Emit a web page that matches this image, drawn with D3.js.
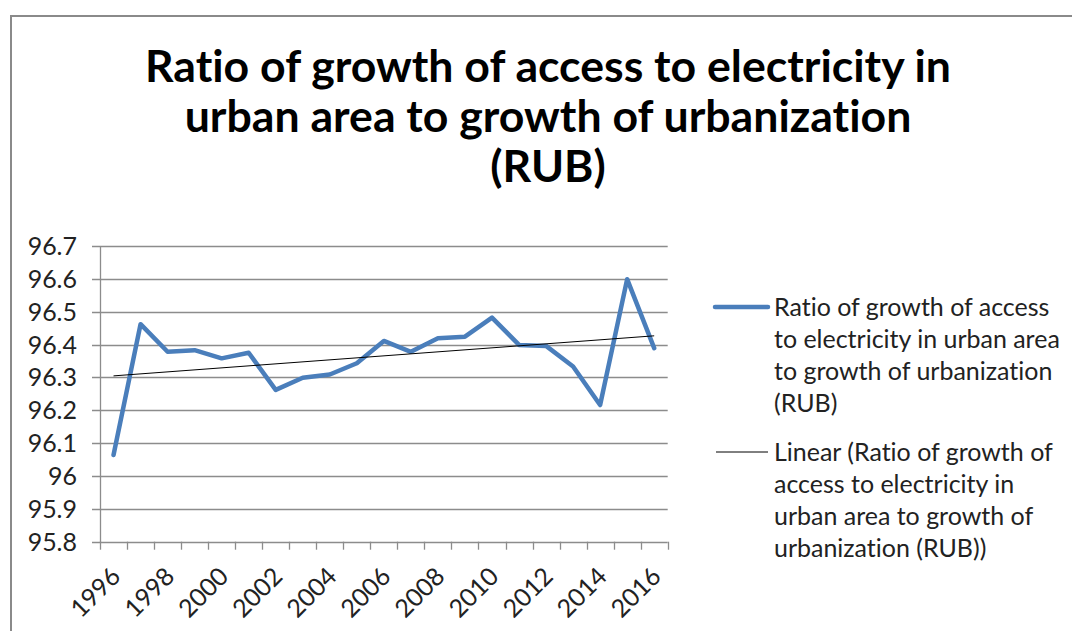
<!DOCTYPE html>
<html><head><meta charset="utf-8">
<script src="https://cdn.jsdelivr.net/npm/d3@7/dist/d3.min.js"></script>
<style>
html,body{margin:0;padding:0;background:#fff;}
svg{display:block;}
text{font-variant-ligatures:none;}
</style></head>
<body>
<svg id="chart" width="1072" height="631"></svg>
<script>
const years = ["1996","1997","1998","1999","2000","2001","2002","2003","2004","2005","2006","2007","2008","2009","2010","2011","2012","2013","2014","2015","2016"];
const rubValues = [96.064,96.462,96.378,96.383,96.358,96.375,96.262,96.299,96.309,96.343,96.411,96.378,96.419,96.424,96.482,96.399,96.396,96.333,96.216,96.599,96.389];
const yTicks = [95.8,95.9,96,96.1,96.2,96.3,96.4,96.5,96.6,96.7];
const xLabelYears = ["1996","1998","2000","2002","2004","2006","2008","2010","2012","2014","2016"];
const titleLines = ["Ratio of growth of access to electricity in","urban area to growth of urbanization","(RUB)"];
const legendSeries = ["Ratio of growth of access","to electricity in urban area","to growth of urbanization","(RUB)"];
const legendTrend = ["Linear (Ratio of growth of","access to electricity in","urban area to growth of","urbanization (RUB))"];

(function(){
const svg = d3.select("#chart");
const FONT = "Lato, 'Open Sans', 'Liberation Sans', sans-serif";

function fitSize(text, weight, targetW){
  const t = svg.append("text").attr("font-family",FONT).attr("font-weight",weight).attr("font-size",100).text(text);
  const w = t.node().getComputedTextLength();
  t.remove();
  return 100*targetW/w;
}

// frame
svg.append("path").attr("d","M11,631 L11,16 L1072,16").attr("fill","none").attr("stroke","#8a8a8a").attr("stroke-width",2);

// title
const titleSize = fitSize(titleLines[0],700,806);
svg.append("g").selectAll("text").data(titleLines).join("text")
  .attr("x",548).attr("y",(d,i)=>82+i*50)
  .attr("text-anchor","middle").attr("font-family",FONT).attr("font-weight",700)
  .attr("font-size",titleSize).attr("fill","#000").text(d=>d);

const labelSize = fitSize("to electricity in urban area",400,286);

const pLeft=100, pRight=667.7, pTop=246, pBottom=541.7;
const x = d3.scaleBand().domain(years).range([pLeft,pRight]).padding(0);
const y = d3.scaleLinear().domain([95.8,96.7]).range([pBottom,pTop]);
const cx = d=>x(d)+x.bandwidth()/2;

// gridlines
svg.append("g").selectAll("line").data(yTicks).join("line")
  .attr("x1",pLeft-8).attr("x2",pRight).attr("y1",d=>Math.round(y(d))+0.5).attr("y2",d=>Math.round(y(d))+0.5)
  .attr("stroke","#8c8c8c").attr("stroke-width",1.3);
svg.append("line").attr("x1",pLeft+0.5).attr("x2",pLeft+0.5).attr("y1",pTop).attr("y2",pBottom+0.5)
  .attr("stroke","#8c8c8c").attr("stroke-width",1.3);
const bounds = years.map(d=>x(d)).concat([pRight]);
svg.append("g").selectAll("line").data(bounds).join("line")
  .attr("x1",d=>Math.round(d)+0.5).attr("x2",d=>Math.round(d)+0.5).attr("y1",pBottom).attr("y2",pBottom+8)
  .attr("stroke","#8c8c8c").attr("stroke-width",1.3);

// y labels
svg.append("g").selectAll("text").data(yTicks).join("text")
  .attr("x",77).attr("y",d=>y(d)).attr("dy","0.36em").attr("text-anchor","end")
  .attr("font-family",FONT).attr("font-size",labelSize).attr("fill","#222")
  .text(d=>d3.format("")(d));

// x labels
svg.append("g").selectAll("text").data(xLabelYears).join("text")
  .attr("transform",d=>`translate(${cx(d)+2},${pBottom+30}) rotate(-45)`)
  .attr("dy","0.36em").attr("text-anchor","end")
  .attr("font-family",FONT).attr("font-size",labelSize).attr("fill","#222")
  .text(d=>d);

// series line
const pts = years.map((d,i)=>[cx(d),y(rubValues[i])]);
svg.append("path").attr("d",d3.line()(pts)).attr("fill","none")
  .attr("stroke","#4a7ebb").attr("stroke-width",4.5).attr("stroke-linejoin","round").attr("stroke-linecap","round");

// linear trend (least squares)
const n=rubValues.length, xs=d3.range(n);
const mx=d3.mean(xs), my=d3.mean(rubValues);
const slope=d3.sum(xs,i=>(i-mx)*(rubValues[i]-my))/d3.sum(xs,i=>(i-mx)*(i-mx));
const icpt=my-slope*mx;
svg.append("line")
  .attr("x1",cx(years[0])).attr("y1",y(icpt))
  .attr("x2",cx(years[n-1])).attr("y2",y(icpt+slope*(n-1)))
  .attr("stroke","#000").attr("stroke-width",1);

// legend
const lg = svg.append("g");
lg.append("line").attr("x1",715).attr("x2",768).attr("y1",307).attr("y2",307)
  .attr("stroke","#4a7ebb").attr("stroke-width",4.5).attr("stroke-linecap","round");
lg.append("line").attr("x1",716).attr("x2",768).attr("y1",452).attr("y2",452)
  .attr("stroke","#000").attr("stroke-width",1);
lg.append("g").selectAll("text").data(legendSeries).join("text")
  .attr("x",774).attr("y",(d,i)=>307+i*32).attr("dy","0.36em")
  .attr("font-family",FONT).attr("font-size",labelSize).attr("fill","#222").text(d=>d);
lg.append("g").selectAll("text").data(legendTrend).join("text")
  .attr("x",774).attr("y",(d,i)=>452+i*32).attr("dy","0.36em")
  .attr("font-family",FONT).attr("font-size",labelSize).attr("fill","#222").text(d=>d);
})();
</script>
</body></html>
